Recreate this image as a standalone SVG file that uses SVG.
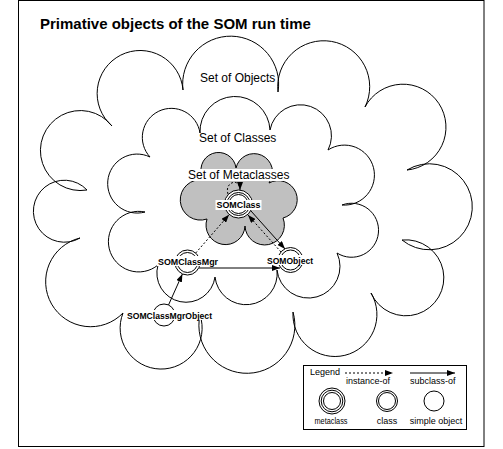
<svg xmlns="http://www.w3.org/2000/svg" width="503" height="449" viewBox="0 0 503 449">
<defs>
<style>
.cloud{fill:none;stroke:#000;stroke-width:1}
.gray{fill:#c0c0c0;stroke:#000;stroke-width:1}
.ring{fill:#fff;stroke:#000;stroke-width:1}
.ringn{fill:none;stroke:#000;stroke-width:1}
.title{font-family:"Liberation Sans",Arial,sans-serif;font-size:15px;font-weight:bold;fill:#000}
.lbl{font-family:"Liberation Sans",Arial,sans-serif;font-size:12px;fill:#000}
.node{font-family:"Liberation Sans",Arial,sans-serif;font-size:9px;font-weight:bold;fill:#000;text-anchor:middle}
.leg{font-family:"Liberation Sans",Arial,sans-serif;font-size:9px;fill:#000}
.mid{text-anchor:middle}
.solid{stroke:#000;stroke-width:1;fill:none;marker-end:url(#arr)}
.dash{stroke:#000;stroke-width:1;fill:none;stroke-dasharray:2 2;marker-end:url(#arr)}
.bg{fill:#fff}
</style>
<marker id="arr" viewBox="0 0 8 6" refX="8" refY="3" markerWidth="8" markerHeight="6" markerUnits="userSpaceOnUse" orient="auto"><path d="M0,0 L8,3 L0,6 Z" fill="#000"/></marker>
</defs>
<rect x="18.5" y="0.5" width="465.5" height="446" fill="#fff" stroke="#000"/>
<text class="title" x="40" y="29">Primative objects of the SOM run time</text>

<g id="set-of-objects">
<path class="cloud" d="M183 90 A48 48 0 1 1 278 92 A46 46 0 1 1 365 107 A43 43 0 1 1 407 170 A43 43 0 1 1 402 240 A38 38 0 1 1 371 293 A42 42 0 1 1 293 312 A48 48 0 1 1 200 315 A41 41 0 1 1 123 313 A45 45 0 1 1 80 238 A31 31 0 1 1 87 190 A40 40 0 1 1 112 126 A43 43 0 1 1 183 90 Z"/>
<text class="lbl" x="200" y="82">Set of Objects</text>
</g>

<g id="set-of-classes">
<path class="cloud" d="M150 157 A29 29 0 1 1 200 133 A35 35 0 1 1 270 130 A31 31 0 1 1 328 150 A30 30 0 1 1 342 205 A27 27 0 1 1 337 253 A31.6 31.6 0 1 1 277 270 A31 31 0 1 1 215 277 A29.2 29.2 0 1 1 158 265 A30.3 30.3 0 1 1 145 212 A29.5 29.5 0 1 1 150 157 Z"/>
<text class="lbl" x="199" y="142">Set of Classes</text>
</g>

<g id="set-of-metaclasses">
<path class="gray" d="M204 180 A17.6 17.6 0 1 1 236 168 A18.5 18.5 0 1 1 269 183 A19 19 0 1 1 283 218 A19.7 19.7 0 1 1 245 226 A19.5 19.5 0 1 1 207 219 A20.2 20.2 0 1 1 204 180 Z"/>
<rect class="bg" x="185" y="169" width="103" height="12"/>
<text class="lbl" x="188" y="179">Set of Metaclasses</text>
</g>

<g id="connectors">
<path class="dash" d="M228 194 C224 182 240 177 240 190"/>
<line class="dash" x1="195.7" y1="253" x2="229" y2="214.8"/>
<line class="dash" x1="281" y1="252" x2="248" y2="215"/>
<line class="solid" x1="251" y1="211" x2="285" y2="249"/>
<line class="solid" x1="199" y1="268" x2="280" y2="268"/>
<line class="solid" x1="168.5" y1="305" x2="182.4" y2="274"/>
</g>

<g id="node-SOMClass">
<circle class="ring" cx="238.5" cy="204" r="14"/>
<circle class="ringn" cx="238.5" cy="204" r="11.5"/>
<circle class="ringn" cx="238.5" cy="204" r="9.5"/>
<rect class="bg" x="215.5" y="200" width="46" height="10"/>
<text class="node" x="238.5" y="208" textLength="44" lengthAdjust="spacingAndGlyphs">SOMClass</text>
</g>

<g id="node-SOMClassMgr">
<circle class="ring" cx="187.5" cy="262.5" r="12.5"/>
<circle class="ringn" cx="187.5" cy="262.5" r="10"/>
<rect class="bg" x="157" y="256" width="62" height="10"/>
<text class="node" x="188" y="265" textLength="60" lengthAdjust="spacingAndGlyphs">SOMClassMgr</text>
</g>

<g id="node-SOMObject">
<circle class="ring" cx="290.5" cy="260" r="12.5"/>
<circle class="ringn" cx="290.5" cy="260" r="10"/>
<rect class="bg" x="266" y="255" width="48" height="10"/>
<text class="node" x="290" y="263.5" textLength="46" lengthAdjust="spacingAndGlyphs">SOMObject</text>
</g>

<g id="node-SOMClassMgrObject">
<circle class="ring" cx="164" cy="315" r="11"/>
<rect class="bg" x="126" y="310" width="88" height="10"/>
<text class="node" x="169.5" y="318.5" textLength="85" lengthAdjust="spacingAndGlyphs">SOMClassMgrObject</text>
</g>

<g id="legend">
<rect x="303.5" y="365.5" width="163" height="64" fill="#fff" stroke="#000"/>
<text class="leg" x="310" y="375">Legend</text>
<line class="dash" x1="345" y1="373" x2="393" y2="373"/>
<text class="leg" x="346" y="384">instance-of</text>
<line class="solid" x1="410" y1="373" x2="455" y2="373"/>
<text class="leg" x="410" y="384">subclass-of</text>
<circle class="ring" cx="332" cy="401" r="13"/>
<circle class="ringn" cx="332" cy="401" r="10.8"/>
<circle class="ringn" cx="332" cy="401" r="8.5"/>
<circle class="ring" cx="387" cy="401" r="10.5"/>
<circle class="ringn" cx="387" cy="401" r="8.5"/>
<circle class="ring" cx="434" cy="401" r="10"/>
<text class="leg mid" x="331" y="424" textLength="33" lengthAdjust="spacingAndGlyphs">metaclass</text>
<text class="leg mid" x="387" y="424">class</text>
<text class="leg mid" x="436" y="424">simple object</text>
</g>
</svg>
